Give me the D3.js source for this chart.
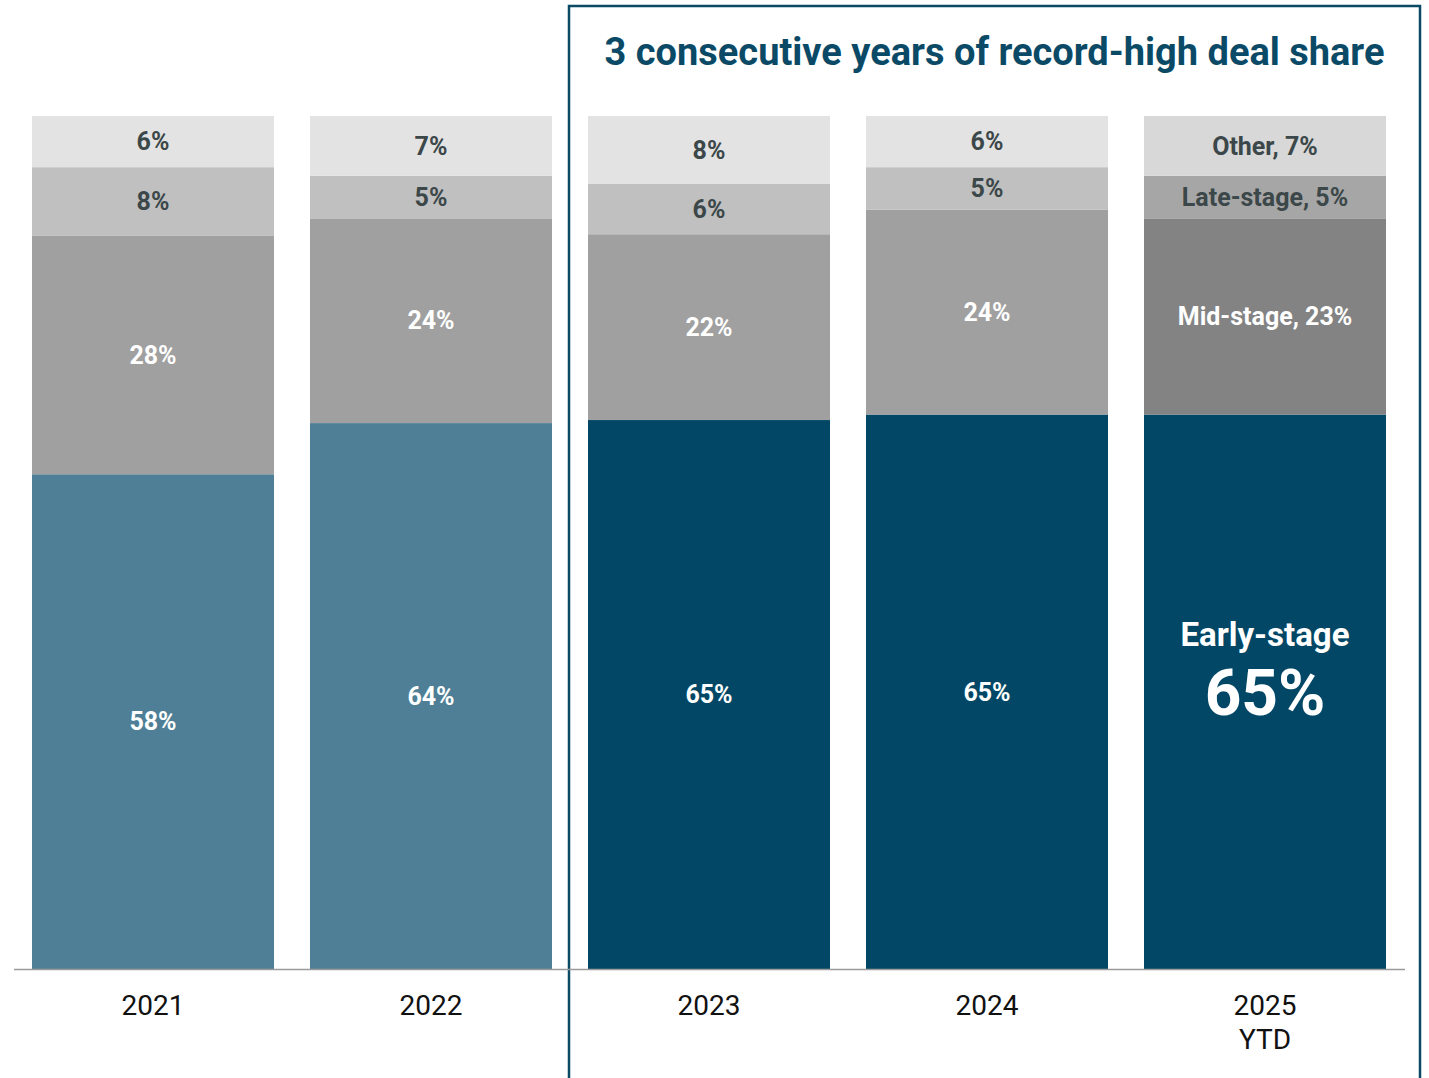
<!DOCTYPE html>
<html>
<head>
<meta charset="utf-8">
<script src="https://cdn.jsdelivr.net/npm/d3@7"></script>
<style>
  html, body { margin: 0; padding: 0; background: #ffffff; }
  svg { display: block; font-family: Roboto, "Noto Sans", sans-serif; }
</style>
</head>
<body>
<svg id="chart" width="1429" height="1078"></svg>
<script>
// Deal share by stage, per year (percent)
const years = ["2021", "2022", "2023", "2024", "2025"];
const yearSub = ["", "", "", "", "YTD"];
const earlyStage = [58, 64, 65, 65, 65];
const midStage = [28, 24, 22, 24, 23];
const lateStage = [8, 5, 6, 5, 5];
const otherStage = [6, 7, 8, 6, 7];
const stageKeys = ["early", "mid", "late", "other"];
const stageNames = ["Early-stage", "Mid-stage", "Late-stage", "Other"];
const highlightFrom = "2023";
const titleText = "3 consecutive years of record-high deal share";

const rows = years.map((y, i) => ({
  year: y,
  early: earlyStage[i],
  mid: midStage[i],
  late: lateStage[i],
  other: otherStage[i]
}));

const svg = d3.select("#chart");
const baseY = 969, topY = 116;

const x = d3.scaleBand().domain(years).range([32, 1386])
  .paddingInner(36 / 278).paddingOuter(0);
const y = d3.scaleLinear().domain([0, 1]).range([baseY, topY]);

const stack = d3.stack().keys(stageKeys).offset(d3.stackOffsetExpand);
const series = stack(rows);

const lastYear = years[years.length - 1];
function fillFor(key, year) {
  const hi = year >= highlightFrom;
  if (key === "early") return hi ? "#024866" : "#4e7f96";
  if (year === lastYear) {
    return { mid: "#838383", late: "#a6a6a6", other: "#d8d8d8" }[key];
  }
  return { mid: "#a0a0a0", late: "#c0c0c0", other: "#e3e3e3" }[key];
}
function textFor(key) {
  return (key === "early" || key === "mid") ? "#ffffff" : "#3b4749";
}

// highlight frame around the record years
const hx0 = 569, hx1 = 1420;
svg.append("rect")
  .attr("x", hx0).attr("y", 6)
  .attr("width", hx1 - hx0).attr("height", 1200)
  .attr("fill", "none")
  .attr("stroke", "#0b4a66")
  .attr("stroke-width", 2.5);

svg.append("text")
  .attr("x", (hx0 + hx1) / 2).attr("y", 65)
  .attr("text-anchor", "middle")
  .attr("font-size", 38).attr("font-weight", 700)
  .attr("fill", "#0b4a66")
  .text(titleText);

// stacked bars
const layer = svg.append("g").selectAll("g").data(series).join("g");
layer.selectAll("rect")
  .data(s => s.map(d => Object.assign(d, { key: s.key })))
  .join("rect")
  .attr("x", d => x(d.data.year))
  .attr("width", x.bandwidth())
  .attr("y", d => y(d[1]))
  .attr("height", d => y(d[0]) - y(d[1]))
  .attr("fill", d => fillFor(d.key, d.data.year));

// segment labels
const labels = svg.append("g").attr("font-weight", 700).attr("text-anchor", "middle");
series.forEach((s, ki) => {
  s.forEach(d => {
    const yr = d.data.year;
    const cx = x(yr) + x.bandwidth() / 2;
    const cy = (y(d[0]) + y(d[1])) / 2;
    const val = d.data[s.key];
    if (yr === lastYear && s.key === "early") {
      labels.append("text")
        .attr("x", cx).attr("y", cy - 57)
        .attr("dy", "0.35em")
        .attr("font-size", 33).attr("fill", "#ffffff")
        .text(stageNames[ki]);
      labels.append("text")
        .attr("x", cx).attr("y", cy + 1)
        .attr("dy", "0.35em")
        .attr("font-size", 64).attr("fill", "#ffffff")
        .text(val + "%");
    } else {
      labels.append("text")
        .attr("x", cx).attr("y", cy)
        .attr("dy", "0.35em")
        .attr("font-size", 25)
        .attr("fill", textFor(s.key))
        .text(yr === lastYear ? `${stageNames[ki]}, ${val}%` : `${val}%`);
    }
  });
});

// baseline axis
svg.append("line")
  .attr("x1", 14).attr("x2", 1405)
  .attr("y1", baseY + 0.5).attr("y2", baseY + 0.5)
  .attr("stroke", "#9a9a9a").attr("stroke-width", 1.5);

const xl = svg.append("g").attr("text-anchor", "middle")
  .attr("font-size", 28).attr("fill", "#111111");
years.forEach((yr, i) => {
  const cx = x(yr) + x.bandwidth() / 2;
  xl.append("text").attr("x", cx).attr("y", 1015).text(yr);
  if (yearSub[i]) xl.append("text").attr("x", cx).attr("y", 1049).text(yearSub[i]);
});
</script>
</body>
</html>
